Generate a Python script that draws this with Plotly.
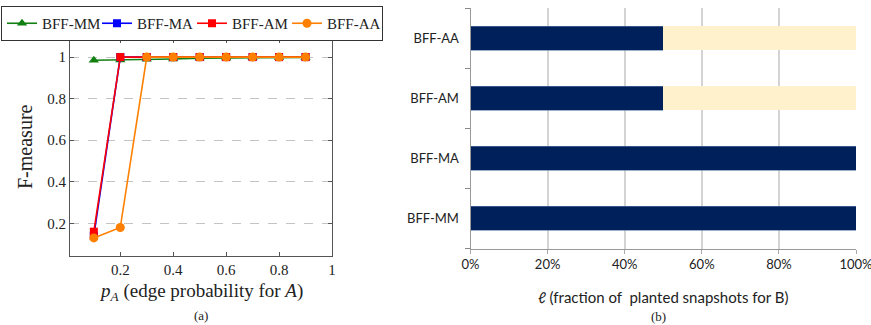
import plotly.graph_objects as go

# ---- (a) F-measure vs edge probability ----
p_a = [0.1, 0.2, 0.3, 0.4, 0.5, 0.6, 0.7, 0.8, 0.9]
f_mm = [0.985, 0.986, 0.99, 0.991, 0.995, 0.996, 0.997, 0.998, 0.998]
f_ma = [0.14, 1.0, 1.0, 1.0, 1.0, 1.0, 1.0, 1.0, 1.0]
f_am = [0.16, 1.0, 1.0, 1.0, 1.0, 1.0, 1.0, 1.0, 1.0]
f_aa = [0.13, 0.18, 1.0, 1.0, 1.0, 1.0, 1.0, 1.0, 1.0]
y_ticks = [0.2, 0.4, 0.6, 0.8, 1.0]
y_tick_labels = ["0.2", "0.4", "0.6", "0.8", "1"]
x_ticks = [0.2, 0.4, 0.6, 0.8, 1.0]
x_tick_labels = ["0.2", "0.4", "0.6", "0.8", "1"]

# ---- (b) fraction of planted snapshots ----
methods = ["BFF-MM", "BFF-MA", "BFF-AM", "BFF-AA"]
planted = [1.0, 1.0, 0.5, 0.5]
remaining = [0.0, 0.0, 0.5, 0.5]
pct_ticks = [0, 0.2, 0.4, 0.6, 0.8, 1.0]

W, H = 871, 325
SERIF = "'Liberation Serif', 'DejaVu Serif', serif"
SANS = "Lato, 'Open Sans', sans-serif"

fig = go.Figure()

series = [
    ("BFF-MM", f_mm, "#118011", "triangle-up", 9),
    ("BFF-MA", f_ma, "#0000ff", "square", 8),
    ("BFF-AM", f_am, "#ff0000", "square", 8),
    ("BFF-AA", f_aa, "#ff8000", "circle", 9),
]
for name, ys, col, sym, sz in series:
    fig.add_trace(go.Scatter(
        x=p_a, y=ys, name=name, mode="lines+markers",
        line=dict(color=col, width=1.6),
        marker=dict(symbol=sym, size=sz, color=col),
        xaxis="x", yaxis="y",
    ))

fig.add_trace(go.Bar(
    y=methods, x=planted, orientation="h", width=0.4,
    marker=dict(color="#00205c", line=dict(color="#5a7aa8", width=0.6)),
    xaxis="x2", yaxis="y2", showlegend=False,
))
fig.add_trace(go.Bar(
    y=methods, x=remaining, orientation="h", width=0.4,
    marker=dict(color="#fff1cc", line=dict(width=0)),
    xaxis="x2", yaxis="y2", showlegend=False,
))

def px_x(a, b):
    return [a / W, b / W]

def px_y(top, bottom):
    return [1 - bottom / H, 1 - top / H]

fig.update_layout(
    template="none",
    width=W, height=H,
    margin=dict(l=0, r=0, t=0, b=0, autoexpand=False),
    paper_bgcolor="white", plot_bgcolor="white",
    barmode="stack",
    showlegend=True,
    legend=dict(
        orientation="h", x=1 / W, y=1 - 6 / H, xanchor="left", yanchor="top",
        traceorder="normal",
        bordercolor="#333", borderwidth=1, bgcolor="white",
        font=dict(family=SERIF, size=15, color="#222"),
        entrywidth=50, itemwidth=30, tracegroupgap=0,
    ),
    xaxis=dict(
        domain=px_x(70, 332), range=[0.01, 1.0], automargin=False,
        tickvals=x_ticks, ticktext=x_tick_labels,
        ticks="inside", ticklen=4, tickcolor="#555",
        showline=True, linecolor="#555", linewidth=1.2, mirror="allticks",
        showgrid=False, zeroline=False,
        tickfont=dict(family=SERIF, size=15, color="#222"),
    ),
    yaxis=dict(
        domain=px_y(39, 256), range=[0.043, 1.087], automargin=False,
        tickvals=y_ticks, ticktext=y_tick_labels,
        ticks="inside", ticklen=4, tickcolor="#555",
        showline=True, linecolor="#555", linewidth=1.2, mirror="allticks",
        showgrid=True, gridcolor="#c4c4c4", griddash="dash", gridwidth=1,
        zeroline=False,
        tickfont=dict(family=SERIF, size=15, color="#222"),
    ),
    xaxis2=dict(
        domain=px_x(470.5, 856), range=[0, 1.0], anchor="y2", automargin=False,
        tickvals=pct_ticks, tickformat=".0%", ticklabeloverflow="allow",
        ticks="outside", ticklen=4, tickcolor="#aaa",
        showline=True, linecolor="#999", linewidth=1,
        showgrid=True, gridcolor="#d4d4d4", gridwidth=1.5,
        zeroline=False,
        tickfont=dict(family=SANS, size=13, color="#222"),
    ),
    yaxis2=dict(
        domain=px_y(8, 248.5), range=[-0.5, 3.5], anchor="x2", automargin=False,
        type="category", categoryorder="array", categoryarray=methods,
        tickson="boundaries", ticks="outside", ticklen=5, tickcolor="#888",
        showline=True, linecolor="#999", linewidth=1,
        showgrid=False, zeroline=False,
        ticklabelstandoff=8,
        tickfont=dict(family=SANS, size=13, color="#222"),
    ),
)

annotations = [
    dict(text="F-measure", x=25 / W, y=1 - 147 / H, textangle=-90,
         font=dict(family=SERIF, size=20, color="#222")),
    dict(text="<i>p</i><sub><i>A</i></sub> (edge probability for <i>A</i>)",
         x=201 / W, y=1 - 292 / H, font=dict(family=SERIF, size=19, color="#222")),
    dict(text="(a)", x=201 / W, y=1 - 315 / H,
         font=dict(family=SERIF, size=13, color="#222")),
    dict(text="<i>ℓ</i> (fraction of  planted snapshots for B)",
         x=663 / W, y=1 - 297 / H, font=dict(family=SANS, size=15, color="#222")),
    dict(text="(b)", x=658 / W, y=1 - 316 / H,
         font=dict(family=SERIF, size=13, color="#222")),
]
for a in annotations:
    a.update(xref="paper", yref="paper", showarrow=False,
             xanchor="center", yanchor="middle")
fig.update_layout(annotations=annotations)

fig.write_html("out.html")
